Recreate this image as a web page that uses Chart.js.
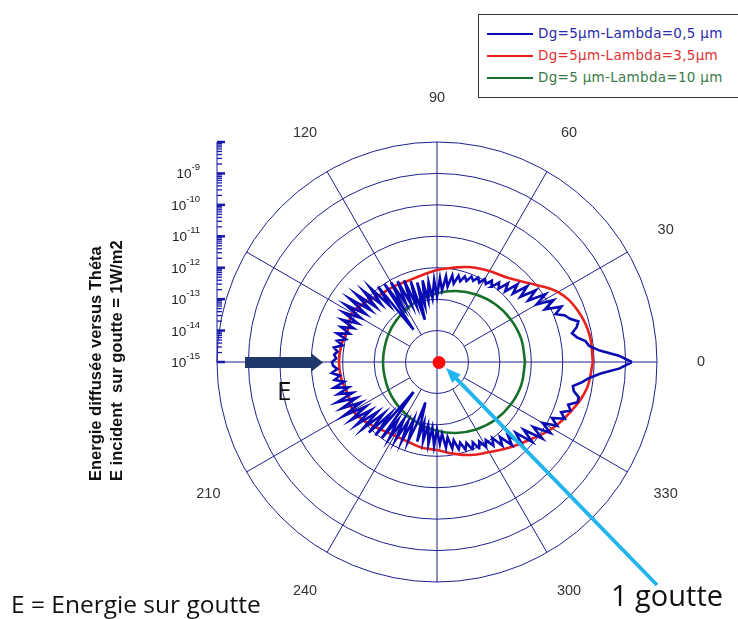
<!DOCTYPE html>
<html>
<head>
<meta charset="utf-8">
<script src="https://cdn.jsdelivr.net/npm/chart.js@4.4.1/dist/chart.umd.min.js"></script>
<style>
  body { margin: 0; background: #fff; }
  #page { position: relative; width: 738px; height: 619px; overflow: hidden; font-family: "Liberation Sans", Arial, sans-serif; }
  #chart { position: absolute; left: 0; top: 0; }
  #legend { position: absolute; left: 478px; top: 14px; width: 266px; height: 84px; border: 1px solid #333; box-sizing: border-box; background: #fff; font-family: "DejaVu Sans", sans-serif; font-size: 13.5px; letter-spacing: 0.3px; }
  #legend div { position: absolute; left: 8px; height: 16px; line-height: 16px; white-space: nowrap; }
  #legend span.swatch { display: inline-block; width: 46px; height: 0; border-top: 2.5px solid; vertical-align: middle; margin-right: 5px; }
  .ytitle { position: absolute; left: 0; top: 0; transform-origin: 0 0; font-weight: bold; font-size: 16.5px; white-space: pre; color: #111; }
  .note { position: absolute; white-space: nowrap; font-family: "Open Sans", "Liberation Sans", sans-serif; color: #111; line-height: 1; }
</style>
</head>
<body>
<div id="page">
  <canvas id="chart" width="738" height="619"></canvas>
  <div id="legend"></div>
  <div class="ytitle" style="transform: translate(86px, 481px) rotate(-90deg);">Energie diffusée versus Théta</div>
  <div class="ytitle" style="transform: translate(107px, 481px) rotate(-90deg);">E incident  sur goutte = 1W/m2</div>
  <div class="note" style="left: 277px; top: 377px; font-size: 26px;">E</div>
  <div class="note" style="left: 11px; top: 592px; font-size: 24.5px;">E = Energie sur goutte</div>
  <div class="note" style="left: 611px; top: 580px; font-size: 29px;">1 goutte</div>
</div>
<script>
// radial axis is log10 of the scattered energy, from 1e-15 (centre) to 1e-8 (outer ring)
const rMin = -15;
const rMax = -8;
const ringExps = [-14, -13, -12, -11, -10, -9, -8];
const tickExps = [-15, -14, -13, -12, -11, -10, -9];
const angleLabels = [0, 30, 60, 90, 120, 210, 240, 270, 300, 330];

const seriesNames = ['Dg=5µm-Lambda=0,5 µm', 'Dg=5µm-Lambda=3,5µm', 'Dg=5 µm-Lambda=10 µm'];
const seriesColors = ['#0a0ab4', '#e8201e', '#17702a'];
const legendColors = ['#2a2aa8', '#e03434', '#3b7a48'];

// Lambda = 0.5 µm, every 2 degrees from 0 to 360, log10(E)
const blueAngles = Array.from({ length: 181 }, (_, i) => i * 2);
const blueLogE = [
  -8.80, -9.21, -9.81, -10.13, -10.23, -10.48, -10.61, -10.42, -10.32, -10.55,
  -10.67, -10.93, -10.67, -11.18, -10.80, -11.34, -10.93, -11.50, -11.12, -11.63,
  -11.25, -11.75, -11.44, -11.88, -11.63, -11.95, -11.79, -12.04, -11.88, -12.07,
  -11.95, -12.14, -12.01, -12.17, -12.07, -12.26, -12.14, -12.33, -12.17, -12.45,
  -12.20, -12.58, -12.26, -12.71, -12.33, -12.90, -12.39, -12.96, -12.45, -13.03,
  -12.36, -13.15, -12.39, -13.60, -12.30, -13.09, -12.20, -13.03, -12.14, -12.90,
  -12.07, -12.96, -12.01, -13.73, -11.95, -12.65, -11.82, -12.45, -11.75, -12.39,
  -11.63, -12.33, -11.56, -12.26, -11.56, -12.20, -11.63, -12.20, -11.69, -12.14,
  -11.75, -12.07, -11.69, -12.01, -11.75, -11.95, -11.69, -11.82, -11.72, -11.79,
  -11.66,
  -11.69, -11.82, -11.63, -11.88, -11.69, -11.98, -11.63, -12.07, -11.69, -12.14,
  -11.56, -12.20, -11.63, -12.26, -11.56, -12.33, -11.69, -12.39, -11.75, -12.52,
  -11.82, -12.65, -11.88, -12.77, -11.95, -13.79, -12.01, -12.77, -12.14, -12.90,
  -12.20, -12.90, -12.26, -13.03, -12.33, -12.96, -13.66, -12.39, -13.03, -12.45,
  -12.96, -12.39, -12.90, -12.33, -12.84, -12.39, -12.71, -12.26, -12.58, -12.20,
  -12.45, -12.14, -12.33, -12.07, -12.26, -12.01, -12.20, -11.95, -12.14, -11.88,
  -12.07, -11.79, -12.01, -11.63, -11.88, -11.44, -11.75, -11.25, -11.63, -11.05,
  -11.50, -10.86, -11.31, -10.74, -11.12, -10.67, -10.93, -10.55, -10.74, -10.48,
  -10.61, -10.35, -10.35, -10.55, -10.61, -10.35, -10.13, -9.78, -9.18, -8.80
];

// Lambda = 3.5 µm, every 10 degrees
const redAngles = Array.from({ length: 37 }, (_, i) => i * 10);
const redLogE = [
  -10.04, -10.07, -10.23, -10.55, -11.12, -11.50, -11.66, -11.79, -11.95, -12.07,
  -12.20, -12.26, -12.23, -12.20, -12.04, -11.88, -11.98, -11.91, -11.88,
  -11.91, -11.98, -11.91, -12.04, -12.20, -12.30, -12.30, -12.23, -12.20, -12.04,
  -11.85, -11.69, -11.44, -11.15, -10.77, -10.45, -10.16, -10.04
];

// Lambda = 10 µm, every 15 degrees
const greenAngles = Array.from({ length: 25 }, (_, i) => i * 15);
const greenLogE = [
  -12.20, -12.22, -12.29, -12.39, -12.52, -12.66, -12.81, -12.94, -13.06, -13.15, -13.22, -13.27, -13.28,
  -13.27, -13.22, -13.15, -13.06, -12.94, -12.81, -12.66, -12.52, -12.39, -12.29, -12.22, -12.20
];

// polar (angle, log E) -> x/y in decades above 1e-15
function polarPoints(angles, logE) {
  return angles.map((a, i) => {
    const r = logE[i] - rMin;
    const t = a * Math.PI / 180;
    return { x: r * Math.cos(t), y: r * Math.sin(t) };
  });
}

function lineSet(i, angles, logE, tension) {
  return {
    label: seriesNames[i],
    data: polarPoints(angles, logE),
    showLine: true,
    borderColor: seriesColors[i],
    backgroundColor: seriesColors[i],
    borderWidth: 2.6,
    pointRadius: 0,
    tension: tension,
    fill: false
  };
}

const gridColor = '#1f1f8f';

const polarGrid = {
  id: 'polarGrid',
  beforeDatasetsDraw(chart) {
    const { ctx, scales: { x, y } } = chart;
    const cx = x.getPixelForValue(0);
    const cy = y.getPixelForValue(0);
    const unit = x.getPixelForValue(1) - cx;
    const R = (rMax - rMin) * unit;
    ctx.save();
    ctx.strokeStyle = gridColor;
    ctx.lineWidth = 1;
    // rings, one per decade
    ringExps.forEach(k => {
      ctx.beginPath();
      ctx.arc(cx, cy, (k - rMin) * unit, 0, Math.PI * 2);
      ctx.stroke();
    });
    // spokes every 30 degrees
    for (let a = 0; a < 360; a += 30) {
      const t = a * Math.PI / 180;
      const r0 = a % 90 === 0 ? 0 : unit;
      ctx.beginPath();
      ctx.moveTo(cx + r0 * Math.cos(t), cy - r0 * Math.sin(t));
      ctx.lineTo(cx + R * Math.cos(t), cy - R * Math.sin(t));
      ctx.stroke();
    }
    // angle labels
    ctx.fillStyle = '#333';
    ctx.font = '14.5px "Liberation Sans", Arial, sans-serif';
    ctx.textAlign = 'center';
    ctx.textBaseline = 'middle';
    angleLabels.forEach(a => {
      const t = a * Math.PI / 180;
      ctx.fillText(String(a), cx + (R + 44) * Math.cos(t), cy - (R + 44) * Math.sin(t));
    });
    // radial log axis on the left
    const ax = cx - R;
    ctx.strokeStyle = '#1a1aa8';
    ctx.beginPath();
    ctx.moveTo(ax, cy);
    ctx.lineTo(ax, cy - R);
    ctx.stroke();
    for (let k = rMin; k < rMax; k++) {
      const y0 = cy - (k - rMin) * unit;
      ctx.lineWidth = 2.5;
      ctx.beginPath();
      ctx.moveTo(ax, y0);
      ctx.lineTo(ax + 8, y0);
      ctx.stroke();
      ctx.lineWidth = 1.3;
      for (let m = 2; m <= 9; m++) {
        const ym = y0 - Math.log10(m) * unit;
        ctx.beginPath();
        ctx.moveTo(ax, ym);
        ctx.lineTo(ax + 5, ym);
        ctx.stroke();
      }
    }
    ctx.lineWidth = 2.5;
    ctx.beginPath();
    ctx.moveTo(ax, cy - R);
    ctx.lineTo(ax + 8, cy - R);
    ctx.stroke();
    // tick labels 10^k
    ctx.fillStyle = '#222';
    ctx.textBaseline = 'alphabetic';
    tickExps.forEach(k => {
      const y0 = cy - (k - rMin) * unit;
      const base = '10', sup = String(k);
      ctx.font = '9.5px "Liberation Sans", Arial, sans-serif';
      const ws = ctx.measureText(sup).width;
      ctx.textAlign = 'right';
      ctx.fillText(sup, ax - 17, y0 - 3);
      ctx.font = '13.5px "Liberation Sans", Arial, sans-serif';
      ctx.fillText(base, ax - 17 - ws, y0 + 5);
    });
    ctx.restore();
  },
  afterDatasetsDraw(chart) {
    const { ctx, scales: { x, y } } = chart;
    const cx = x.getPixelForValue(0);
    const cy = y.getPixelForValue(0);
    ctx.save();
    // incoming energy arrow "E"
    ctx.fillStyle = '#1f3a6a';
    ctx.beginPath();
    ctx.moveTo(245, 357);
    ctx.lineTo(311, 357);
    ctx.lineTo(311, 353);
    ctx.lineTo(323, 362.5);
    ctx.lineTo(311, 372);
    ctx.lineTo(311, 368);
    ctx.lineTo(245, 368);
    ctx.closePath();
    ctx.fill();
    // pointer to the droplet
    const tipX = cx + 9, tipY = cy + 6;
    const fromX = 657, fromY = 585;
    const ang = Math.atan2(tipY - fromY, tipX - fromX);
    ctx.strokeStyle = '#22b4ec';
    ctx.fillStyle = '#22b4ec';
    ctx.lineWidth = 3.8;
    ctx.beginPath();
    ctx.moveTo(fromX, fromY);
    ctx.lineTo(tipX - 10 * Math.cos(ang), tipY - 10 * Math.sin(ang));
    ctx.stroke();
    ctx.beginPath();
    ctx.moveTo(tipX, tipY);
    ctx.lineTo(tipX - 15 * Math.cos(ang) + 6 * Math.sin(ang), tipY - 15 * Math.sin(ang) - 6 * Math.cos(ang));
    ctx.lineTo(tipX - 15 * Math.cos(ang) - 6 * Math.sin(ang), tipY - 15 * Math.sin(ang) + 6 * Math.cos(ang));
    ctx.closePath();
    ctx.fill();
    // droplet
    ctx.fillStyle = '#ff0a0a';
    ctx.beginPath();
    ctx.arc(cx + 2, cy + 0.5, 6.5, 0, Math.PI * 2);
    ctx.fill();
    ctx.restore();
  }
};

const span = rMax - rMin;
new Chart(document.getElementById('chart'), {
  type: 'scatter',
  data: {
    datasets: [
      lineSet(0, blueAngles, blueLogE, 0),
      lineSet(1, redAngles, redLogE, 0.4),
      lineSet(2, greenAngles, greenLogE, 0.4)
    ]
  },
  options: {
    responsive: false,
    animation: false,
    layout: { padding: { left: 217, right: 81, top: 142, bottom: 37 } },
    scales: {
      x: { type: 'linear', min: -span, max: span, display: false },
      y: { type: 'linear', min: -span, max: span, display: false }
    },
    plugins: {
      legend: { display: false },
      tooltip: { enabled: false }
    }
  },
  plugins: [polarGrid]
});

// legend box
const legendBox = document.getElementById('legend');
seriesNames.forEach((name, i) => {
  const row = document.createElement('div');
  row.style.top = (10 + i * 22) + 'px';
  row.style.color = legendColors[i];
  row.innerHTML = '<span class="swatch" style="border-color:' + seriesColors[i] + '"></span>' + name;
  legendBox.appendChild(row);
});
</script>
</body>
</html>
